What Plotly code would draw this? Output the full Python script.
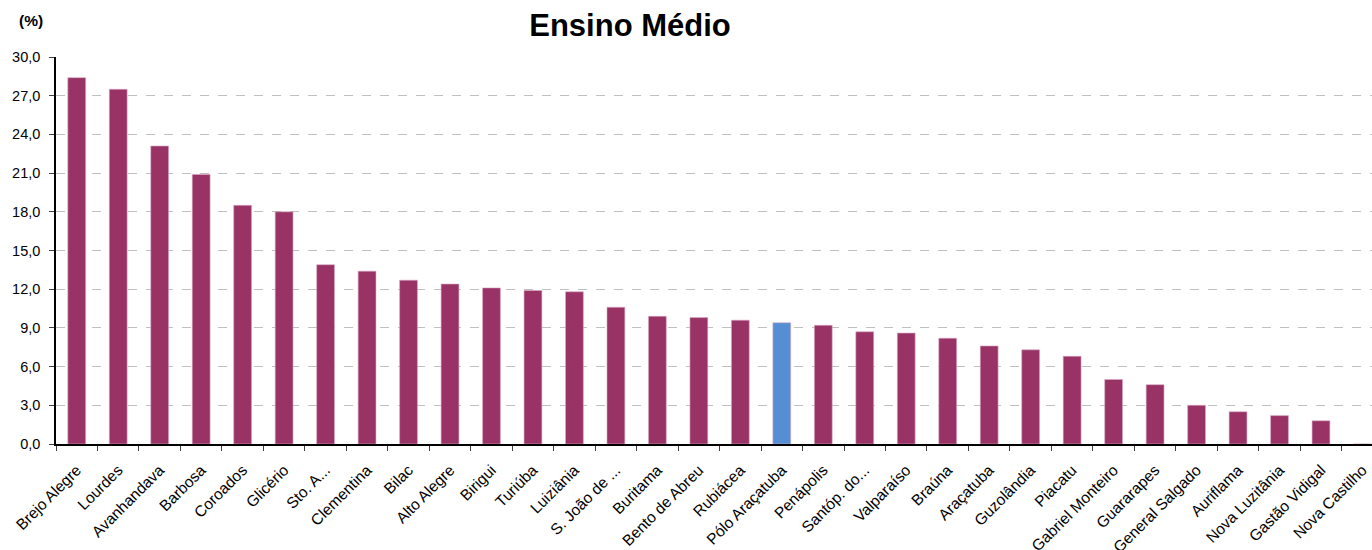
import plotly.graph_objects as go

# Municipalities and their rates (%), ordered high to low
municipios = [
    "Brejo Alegre", "Lourdes", "Avanhandava", "Barbosa", "Coroados", "Glicério",
    "Sto. A...", "Clementina", "Bilac", "Alto Alegre", "Birigui", "Turiúba",
    "Luiziânia", "S. João de ...", "Buritama", "Bento de Abreu", "Rubiácea",
    "Pólo Araçatuba", "Penápolis", "Santóp. do...", "Valparaíso", "Braúna",
    "Araçatuba", "Guzolândia", "Piacatu", "Gabriel Monteiro", "Guararapes",
    "General Salgado", "Auriflama", "Nova Luzitânia", "Gastão Vidigal", "Nova Castilho",
]
taxas = [
    28.4, 27.5, 23.1, 20.9, 18.5, 18.0,
    13.9, 13.4, 12.7, 12.4, 12.1, 11.9,
    11.8, 10.6, 9.9, 9.8, 9.6,
    9.4, 9.2, 8.7, 8.6, 8.2,
    7.6, 7.3, 6.8, 5.0, 4.6,
    3.0, 2.5, 2.2, 1.8, 0.0,
]
destaque = "Pólo Araçatuba"
y_ticks = [0, 3, 6, 9, 12, 15, 18, 21, 24, 27, 30]

cor_padrao = "#993366"
cor_destaque = "#558ED5"
cores = [cor_destaque if m == destaque else cor_padrao for m in municipios]

fig = go.Figure(
    go.Bar(
        x=municipios,
        y=taxas,
        marker=dict(color=cores, line=dict(color="#D9A9C2", width=0.6)),
        width=0.43,
    )
)

fig.update_layout(
    width=1372,
    height=550,
    margin=dict(l=56, r=0, t=57, b=106),
    paper_bgcolor="white",
    plot_bgcolor="white",
    separators=",.",
    showlegend=False,
    font=dict(family="Liberation Sans, Arial, sans-serif", size=14, color="black"),
    title=dict(
        text="<b>Ensino Médio</b>",
        font=dict(size=31, color="black"),
        x=630 / 1372,
        xref="container",
        xanchor="center",
        y=1 - 25 / 550,
        yref="container",
        yanchor="middle",
    ),
    annotations=[
        dict(
            text="<b>(%)</b>",
            xref="paper", yref="paper",
            x=(17 - 56) / 1316, y=(444 - 20.5) / 387,
            xanchor="left", yanchor="middle",
            showarrow=False,
            font=dict(size=15.5, color="black"),
        )
    ],
)

fig.update_xaxes(
    type="category",
    range=[-0.5, 31.23],
    automargin=False,
    tickangle=-45,
    tickson="boundaries",
    ticks="outside",
    ticklen=5,
    tickcolor="#404040",
    showline=True,
    linecolor="black",
    linewidth=2,
    showgrid=False,
    ticklabelstandoff=9,
    tickfont=dict(size=15.5, color="black"),
)

fig.update_yaxes(
    range=[0, 30],
    automargin=False,
    tickvals=y_ticks,
    tickformat=".1f",
    ticks="outside",
    ticklen=5,
    tickcolor="#404040",
    showline=True,
    linecolor="black",
    linewidth=1.5,
    showgrid=True,
    gridcolor="#C0C0C0",
    griddash="dash",
    gridwidth=1,
    zeroline=False,
    ticklabelstandoff=6,
    tickfont=dict(size=14.5, color="black"),
)

fig.write_html("out.html")
